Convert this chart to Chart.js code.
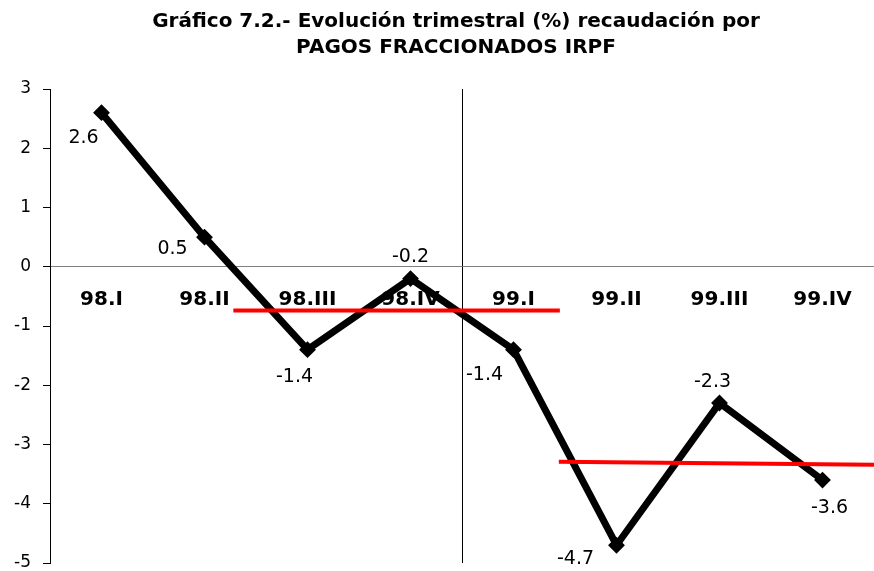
<!DOCTYPE html>
<html>
<head>
<meta charset="utf-8">
<script src="https://cdn.jsdelivr.net/npm/chart.js@4.4.1/dist/chart.umd.min.js"></script>
<style>
  html, body { margin: 0; padding: 0; background: #fff; }
  #wrap { width: 874px; height: 571px; }
</style>
</head>
<body>
<div id="wrap"><canvas id="lineChart"></canvas></div>
<script>
const categories = ["98.I", "98.II", "98.III", "98.IV", "99.I", "99.II", "99.III", "99.IV"];
const values = [2.6, 0.5, -1.4, -0.2, -1.4, -4.7, -2.3, -3.6];
const yMin = -5;
const yMax = 3;
// red reference lines, x in category units (0 = left edge of 98.I, 8 = right edge of 99.IV)
const ref1X = [1.78, 4.95];
const ref1Y = [-0.74, -0.74];
const ref2X = [4.94, 8];
const ref2Y = [-3.29, -3.34];

// where each value label sits relative to its point (px)
const labelOffsets = [[-18, 25], [-32, 12], [-13, 27], [0, -22], [-29, 25], [-41, 14], [-7, -21], [7, 28]];

const valueLabels = {
  id: "valueLabels",
  afterLayout(chart) {
    // the title is centred over the plot, not the whole canvas
    chart.titleBlock.left = 38;
  },
  afterDatasetsDraw(chart) {
    const meta = chart.getDatasetMeta(2);
    const ctx = chart.ctx;
    ctx.save();
    ctx.font = "19px 'DejaVu Sans'";
    ctx.fillStyle = "#000";
    ctx.textAlign = "center";
    ctx.textBaseline = "middle";
    meta.data.forEach((pt, i) => {
      ctx.fillText(String(values[i]), pt.x + labelOffsets[i][0], pt.y + labelOffsets[i][1]);
    });
    ctx.restore();
  },
};

var ctx = document.getElementById("lineChart").getContext("2d");
new Chart(ctx, {
  type: "line",
  data: {
    labels: categories,
    datasets: [
      {
        data: ref1X.map((x, i) => ({ x: x, y: ref1Y[i] })),
        xAxisID: "x2",
        borderColor: "#ff0000",
        borderWidth: 4,
        pointRadius: 0,
        order: 0,
      },
      {
        data: ref2X.map((x, i) => ({ x: x, y: ref2Y[i] })),
        xAxisID: "x2",
        borderColor: "#ff0000",
        borderWidth: 4,
        pointRadius: 0,
        order: 0,
      },
      {
        data: values,
        xAxisID: "x",
        borderColor: "#000",
        backgroundColor: "#000",
        borderWidth: 7,
        pointStyle: "rectRot",
        pointRadius: 7,
        pointBorderWidth: 2,
        tension: 0,
        order: 1,
      },
    ],
  },
  options: {
    responsive: true,
    maintainAspectRatio: false,
    animation: false,
    layout: { autoPadding: false, padding: { left: 0, right: 0, top: 0, bottom: 8 } },
    plugins: {
      legend: { display: false },
      tooltip: { enabled: false },
      title: {
        display: true,
        text: ["Gráfico 7.2.- Evolución trimestral (%) recaudación por", "PAGOS FRACCIONADOS IRPF"],
        color: "#000",
        font: { family: "'DejaVu Sans'", size: 20, weight: "bold", lineHeight: 1.3 },
        padding: { top: 9, bottom: 28 },
      },
    },
    scales: {
      x: {
        type: "category",
        position: { y: 0 },
        offset: true,
        afterFit: (scale) => {
          scale.height = 0;
          scale.paddingLeft = 0;
          scale.paddingRight = 0;
        },
        grid: {
          offset: true,
          drawTicks: false,
          lineWidth: 1,
          color: (c) => (c.index === 4 ? "#000" : "rgba(0,0,0,0)"),
        },
        border: { color: "#808080", width: 1 },
        ticks: {
          color: "#000",
          padding: 21,
          font: { family: "'DejaVu Sans'", size: 20, weight: "bold" },
        },
      },
      x2: {
        type: "linear",
        display: false,
        min: 0,
        max: 8,
      },
      y: {
        min: yMin,
        max: yMax,
        afterFit: (scale) => {
          scale.width = 50;
          scale.paddingBottom = 0;
        },
        ticks: {
          stepSize: 1,
          color: "#000",
          padding: 12,
          font: { family: "'DejaVu Sans'", size: 17 },
        },
        grid: { drawOnChartArea: false, tickLength: 7, color: "#000" },
        border: { color: "#000", width: 1 },
      },
    },
  },
  plugins: [valueLabels],
});
</script>
</body>
</html>
